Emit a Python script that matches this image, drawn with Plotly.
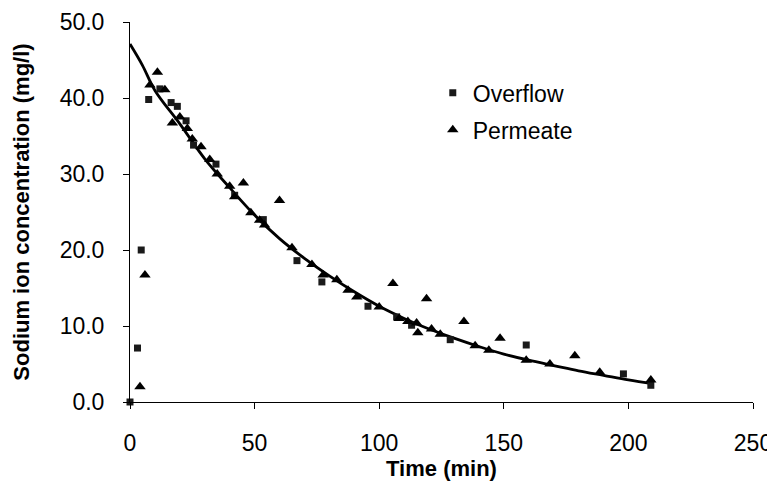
import plotly.graph_objects as go

# Overflow (squares)
overflow_t = [0, 3, 4.5, 7.5, 12, 16.5, 19, 22.5, 25.5, 34.5, 42, 53.5, 67, 77, 95.5, 107, 113, 128.5, 159, 198, 209]
overflow_c = [0, 7.1, 20.0, 39.8, 41.2, 39.4, 38.9, 37.0, 33.8, 31.3, 27.2, 24.0, 18.6, 15.8, 12.6, 11.2, 10.1, 8.2, 7.5, 3.7, 2.2]

# Permeate (triangles)
permeate_t = [4, 6, 8, 11, 14, 17, 20, 23, 25, 28.5, 32, 35, 40, 42, 45.5, 48.5, 52, 54, 60, 65, 73, 77.5,
              83, 87.5, 91, 100, 105.5, 108, 111.5, 115, 115.5, 119, 121, 124.5, 134, 138.5, 144, 148.5,
              159, 168.5, 178.5, 188.5, 209]
permeate_c = [2.0, 16.7, 41.7, 43.4, 41.1, 36.7, 37.5, 36.0, 34.6, 33.6, 31.9, 30.0, 28.4, 27.0, 28.8, 24.9,
              23.9, 23.3, 26.5, 20.3, 18.1, 16.7, 16.1, 14.7, 13.8, 12.5, 15.6, 11.0, 10.6, 10.4, 9.1, 13.6,
              9.6, 8.9, 10.6, 7.4, 6.8, 8.4, 5.5, 5.0, 6.1, 3.9, 2.9]

# Fitted curve
fit_t = [0, 5, 10, 20, 30, 40, 50, 60, 70, 80, 90, 100, 110, 120, 130, 140, 150, 160, 170, 180, 190, 200, 210]
fit_c = [47.1, 44.3, 41.0, 36.6, 32.0, 28.2, 24.6, 21.5, 18.9, 16.6, 14.5, 12.6, 11.0, 9.6, 8.4, 7.3, 6.3,
         5.5, 4.8, 4.1, 3.5, 2.9, 2.4]

x_ticks = [0, 50, 100, 150, 200, 250]
y_ticks = [0, 10, 20, 30, 40, 50]

FONT = "Liberation Sans, Arial, sans-serif"

fig = go.Figure()
fig.add_trace(go.Scatter(x=fit_t, y=fit_c, mode="lines", line=dict(color="black", width=2.8, shape="spline"),
                         showlegend=False, hoverinfo="skip"))
fig.add_trace(go.Scatter(x=overflow_t, y=overflow_c, mode="markers", name="Overflow", legendgroup="a",
                         marker=dict(symbol="square", size=7, color="#1a1a1a"), cliponaxis=False))
fig.add_trace(go.Scatter(x=permeate_t, y=permeate_c, mode="markers", name="Permeate", legendgroup="b",
                         marker=dict(symbol="triangle-up", size=10, color="black"), cliponaxis=False))

# page body has an 8px default margin, so the figure is sized/offset to compensate
fig.update_layout(
    width=767, height=486,
    margin=dict(l=122, r=22, t=14, b=92),
    paper_bgcolor="white", plot_bgcolor="white",
    font=dict(family=FONT, size=23, color="black"),
    legend=dict(x=0.486, y=0.87, xanchor="left", yanchor="top", bgcolor="rgba(0,0,0,0)",
                font=dict(family=FONT, size=23), tracegroupgap=4, itemwidth=30),
    showlegend=True,
)
fig.update_xaxes(
    range=[0, 250], tickvals=x_ticks, ticktext=[str(v) for v in x_ticks],
    showline=True, linecolor="black", linewidth=1, ticks="outside", ticklen=6, tickcolor="black",
    showgrid=False, zeroline=False, automargin=False, ticklabelstandoff=14,
    title=dict(text="<b>Time (min)</b>", font=dict(family=FONT, size=22), standoff=4),
    tickfont=dict(family=FONT, size=23),
)
fig.update_yaxes(
    range=[0, 50], tickvals=y_ticks, ticktext=[f"{v:.1f}" for v in y_ticks],
    showline=True, linecolor="black", linewidth=1, ticks="outside", ticklen=6, tickcolor="black",
    showgrid=False, zeroline=False, automargin=False, ticklabelstandoff=14,
    title=dict(text="<b>Sodium ion concentration (mg/l)</b>", font=dict(family=FONT, size=22), standoff=23),
    tickfont=dict(family=FONT, size=23),
)

fig.write_html("out.html")
